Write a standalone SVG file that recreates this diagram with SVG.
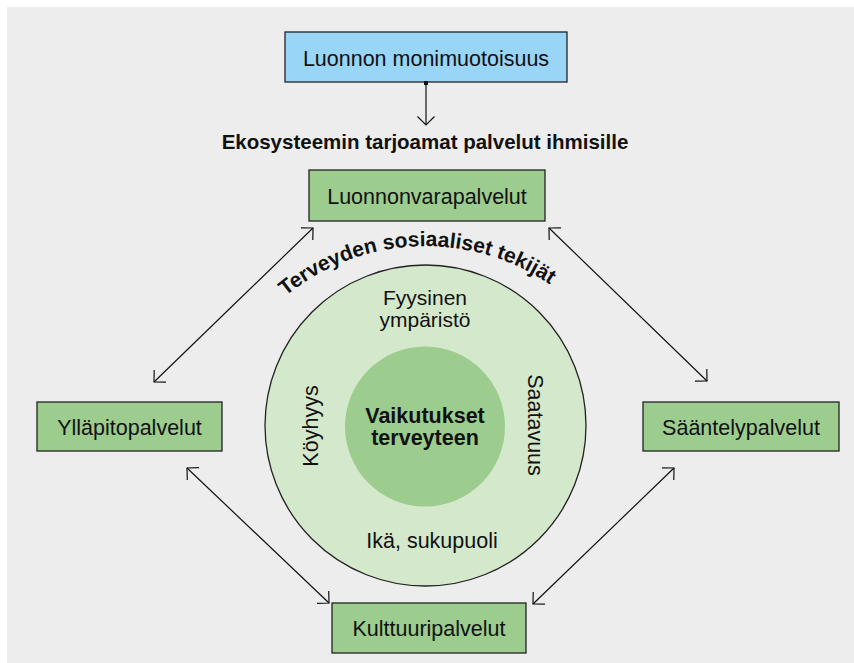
<svg xmlns="http://www.w3.org/2000/svg" width="854" height="663" viewBox="0 0 854 663">
<defs>
<style>
text{font-family:"Liberation Sans",Arial,sans-serif;fill:#111}
.lbl{font-size:21.5px;text-anchor:middle}
.sm{font-size:21px}
.b{font-weight:bold}
.box{stroke:#222;stroke-width:1.3}
.green{fill:#9ccc8e}
.con{stroke:#111;stroke-width:1.2;fill:none;marker-start:url(#ah);marker-end:url(#ah)}
</style>
<marker id="ah" markerUnits="userSpaceOnUse" markerWidth="20" markerHeight="20" viewBox="-10 -10 20 20" refX="0" refY="0" orient="auto-start-reverse" overflow="visible">
<path d="M-8.5,-8.5 L0,0 L-8.5,8.5" fill="none" stroke="#111" stroke-width="1.2"/>
</marker>
<path id="arc" d="M256.3,325 A221,221 0 0 1 594.7,325" fill="none"/>
</defs>
<rect x="0" y="0" width="854" height="663" fill="#ffffff"/>
<rect x="7" y="7" width="847" height="656" fill="#ededed"/>

<g id="circle-outer">
<circle cx="425.5" cy="425.5" r="160.5" fill="#d4e8cc" stroke="#222" stroke-width="1.3"/>
<text class="lbl sm" x="425" y="305">Fyysinen</text>
<text class="lbl sm" x="425" y="327">ympäristö</text>
<text class="lbl" x="432" y="548">Ikä, sukupuoli</text>
<text class="lbl" transform="translate(318,426) rotate(-90)">Köyhyys</text>
<text class="lbl" transform="translate(528,425) rotate(90)">Saatavuus</text>
<text class="b" font-size="21" text-anchor="middle"><textPath href="#arc" startOffset="47.5%">Terveyden sosiaaliset tekijät</textPath></text>
</g>
<g id="circle-inner">
<circle cx="425" cy="426.5" r="80" fill="#9ccc8e"/>
<text class="lbl b" x="425" y="423">Vaikutukset</text>
<text class="lbl b" x="425" y="445">terveyteen</text>
</g>

<g id="luonnon">
<rect class="box" x="285" y="32" width="282" height="50" fill="#99d5f7"/>
<text class="lbl" x="426" y="65.5">Luonnon monimuotoisuus</text>
</g>
<g id="heading">
<text class="b" font-size="20.5" text-anchor="middle" x="425" y="149">Ekosysteemin tarjoamat palvelut ihmisille</text>
</g>
<g id="luonnonvara">
<rect class="box green" x="309" y="170" width="236" height="51"/>
<text class="lbl" x="427" y="204">Luonnonvarapalvelut</text>
</g>
<g id="yllapito">
<rect class="box green" x="37" y="402" width="185" height="49"/>
<text class="lbl" x="129.5" y="435">Ylläpitopalvelut</text>
</g>
<g id="saantely">
<rect class="box green" x="643" y="402" width="196" height="49"/>
<text class="lbl" x="741" y="435">Sääntelypalvelut</text>
</g>
<g id="kulttuuri">
<rect class="box green" x="332" y="603" width="194" height="50"/>
<text class="lbl" x="429" y="636">Kulttuuripalvelut</text>
</g>

<g id="connectors">
<rect x="424" y="81" width="4" height="4" fill="#111"/>
<line x1="426" y1="83" x2="426" y2="125" stroke="#111" stroke-width="1.2" marker-end="url(#ah)"/>
<line class="con" x1="154" y1="382" x2="313" y2="228"/>
<line class="con" x1="549" y1="228" x2="707" y2="381"/>
<line class="con" x1="187" y1="468" x2="329" y2="603"/>
<line class="con" x1="674" y1="468" x2="533" y2="604"/>
</g>
</svg>
